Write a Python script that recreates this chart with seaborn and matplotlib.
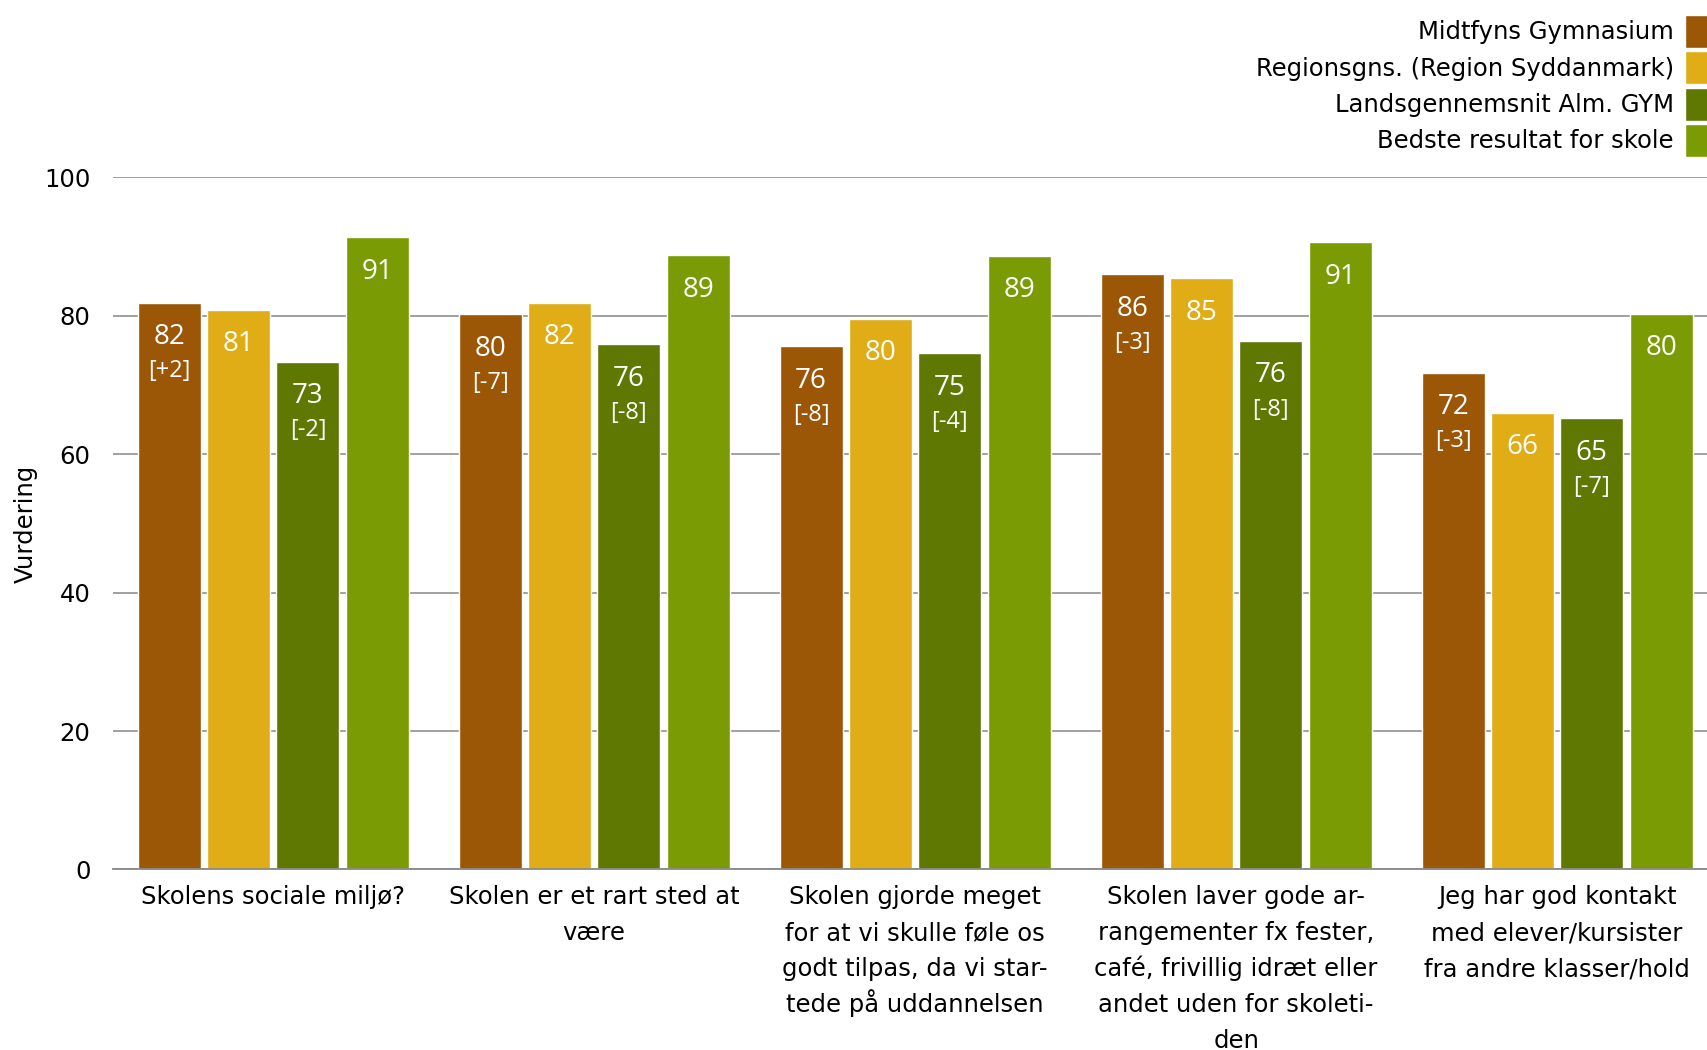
import pandas as pd
import seaborn as sns
import matplotlib.pyplot as plt

questions = ['Skolens sociale miljø?',
             'Skolen er et rart sted at\nvære',
             'Skolen gjorde meget\nfor at vi skulle føle os\ngodt tilpas, da vi star-\ntede på uddannelsen',
             'Skolen laver gode ar-\nrangementer fx fester,\ncafé, frivillig idræt eller\nandet uden for skoleti-\nden',
             'Jeg har god kontakt\nmed elever/kursister\nfra andre klasser/hold']
series = ['Midtfyns Gymnasium', 'Regionsgns. (Region Syddanmark)',
          'Landsgennemsnit Alm. GYM', 'Bedste resultat for skole']
midtfyns = [81.9, 80.2, 75.6, 86.0, 71.8]
region = [80.9, 81.9, 79.6, 85.4, 66.0]
lands = [73.4, 75.9, 74.6, 76.4, 65.2]
bedste = [91.4, 88.8, 88.7, 90.6, 80.3]
midtfyns_diff = ['[+2]', '[-7]', '[-8]', '[-3]', '[-3]']
lands_diff = ['[-2]', '[-8]', '[-4]', '[-8]', '[-7]']
colors = ['#9b5706', '#e0ad17', '#5f7802', '#7a9b03']

rows = []
for name, vals in zip(series, [midtfyns, region, lands, bedste]):
    for q, v in zip(questions, vals):
        rows.append({'q': q, 'serie': name, 'v': v})
df = pd.DataFrame(rows)
diffs = [midtfyns_diff, None, lands_diff, None]

sns.set_style('white')
plt.rcParams['font.family'] = ['DejaVu Sans']
plt.rcParams['text.color'] = 'black'
plt.rcParams['axes.labelcolor'] = 'black'
fs = 17.5

fig = plt.figure(figsize=(17.08, 10.5), dpi=100)
ax = fig.add_axes([0.066, 0.172, 0.934, 0.659])
sns.barplot(data=df, x='q', y='v', hue='serie', palette=colors,
            width=0.864, gap=0.09, ax=ax, saturation=1, errorbar=None)

for i, cont in enumerate(ax.containers):
    for j, bar in enumerate(cont):
        x = bar.get_x() + bar.get_width() / 2
        h = bar.get_height()
        ax.annotate('{:.0f}'.format(h), xy=(x, h), xytext=(0, -25),
                    textcoords='offset points', ha='center', va='center',
                    color='white', fontsize=20, family='Open Sans')
        if diffs[i] is not None:
            ax.annotate(diffs[i][j], xy=(x, h), xytext=(0, -49.5),
                        textcoords='offset points', ha='center', va='center',
                        color='white', fontsize=17, family='Open Sans')

handles, labels = ax.get_legend_handles_labels()
ax.get_legend().remove()
fig.legend(handles, labels, loc='upper right', bbox_to_anchor=(1.0, 0.986),
           frameon=False, markerfirst=False, fontsize=fs, handlelength=0.95,
           handleheight=1.715, handletextpad=0.45, labelspacing=0.14,
           borderpad=0, borderaxespad=0)

ax.set_ylim(0, 100)
ax.set_xlim(-0.5, 4.47)
ax.set_yticks([0, 20, 40, 60, 80, 100])
ax.yaxis.grid(True, color='#999999', linewidth=1.3)
ax.set_axisbelow(True)
for s in ['top', 'right', 'left']:
    ax.spines[s].set_visible(False)
ax.spines['bottom'].set_color('#888888')
ax.spines['bottom'].set_linewidth(1.3)
ax.tick_params(axis='both', length=0, labelsize=fs, colors='black')
ax.tick_params(axis='y', pad=16)

# category labels, one line at a time so the line spacing stays even
ax.set_xticks(range(len(questions)))
ax.set_xticklabels([])
for i, q in enumerate(questions):
    for k, line in enumerate(q.split('\n')):
        ax.annotate(line, xy=(i, 0), xytext=(0, -25.2 - 25.9 * k),
                    textcoords='offset points', ha='center', va='baseline',
                    fontsize=fs, color='black', annotation_clip=False)
ax.set_xlabel('')
ax.set_ylabel('Vurdering', fontsize=fs)
ax.yaxis.set_label_coords(-0.047, 0.5)

fig.savefig('out.png', dpi=100)
